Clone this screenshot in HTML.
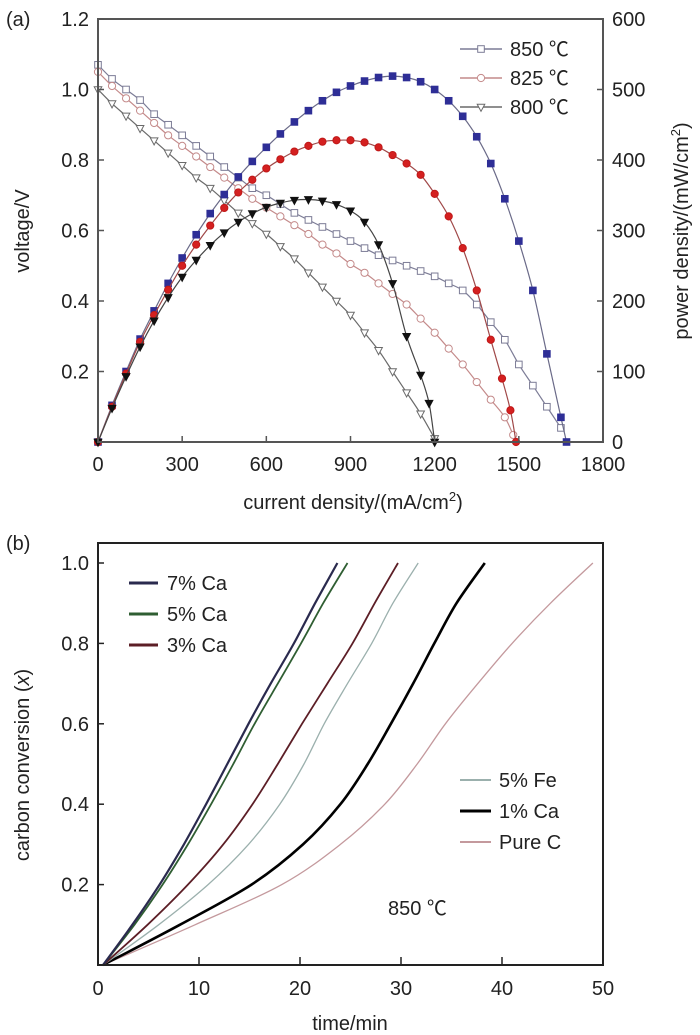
<!DOCTYPE html>
<html><head><meta charset="utf-8"><style>
html,body{margin:0;padding:0;background:#fff;}
svg{display:block;font-family:"Liberation Sans","Noto Sans CJK SC",sans-serif;}
</style></head><body>
<svg id="fig" width="700" height="1035" viewBox="0 0 700 1035"></svg>
<script>
// ---- Panel (a) data ----
const iv850 = [0,50,100,150,200,250,300,350,400,450,500,550,600,650,700,750,800,850,900,950,1000,1050,1100,1150,1200,1250,1300,1350,1400,1450,1500,1550,1600,1650];
const v850 = [1.07,1.03,1.0,0.97,0.93,0.90,0.87,0.84,0.81,0.78,0.75,0.72,0.70,0.675,0.65,0.63,0.61,0.59,0.57,0.55,0.53,0.515,0.50,0.485,0.47,0.45,0.43,0.39,0.34,0.29,0.22,0.16,0.10,0.04];
const iv825 = [0,50,100,150,200,250,300,350,400,450,500,550,600,650,700,750,800,850,900,950,1000,1050,1100,1150,1200,1250,1300,1350,1400,1450,1480];
const v825 = [1.05,1.01,0.975,0.94,0.905,0.87,0.84,0.81,0.78,0.75,0.72,0.69,0.665,0.64,0.615,0.59,0.56,0.535,0.505,0.48,0.45,0.42,0.39,0.35,0.31,0.265,0.22,0.17,0.12,0.07,0.02];
const iv800 = [0,50,100,150,200,250,300,350,400,450,500,550,600,650,700,750,800,850,900,950,1000,1050,1100,1150,1200];
const v800 = [1.0,0.96,0.925,0.89,0.855,0.82,0.785,0.75,0.72,0.685,0.65,0.62,0.59,0.555,0.52,0.48,0.44,0.40,0.36,0.31,0.26,0.20,0.14,0.08,0.01];
const ip850 = [0,50,100,150,200,250,300,350,400,450,500,550,600,650,700,750,800,850,900,950,1000,1050,1100,1150,1200,1250,1300,1350,1400,1450,1500,1550,1600,1650,1670];
const p850 = [0,52,100,146,186,225,261,294,324,351,376,398,418,437,454,470,484,496,505,512,517,519,517,511,500,484,462,433,395,345,285,215,125,35,0];
const ip825 = [0,50,100,150,200,250,300,350,400,450,500,550,600,650,700,750,800,850,900,950,1000,1050,1100,1150,1200,1250,1300,1350,1400,1440,1470,1490];
const p825 = [0,50,97,142,180,216,250,280,307,332,354,372,388,401,412,420,426,428,428,425,418,407,395,379,352,320,275,215,145,90,45,0];
const ip800 = [0,50,100,150,200,250,300,350,400,450,500,550,600,650,700,750,800,850,900,950,1000,1050,1100,1150,1180,1200];
const p800 = [0,48,93,135,172,205,234,258,279,297,312,324,333,339,343,344,342,337,328,312,280,225,150,95,55,0];
const xTicksA = [0,300,600,900,1200,1500,1800];
const yTicksA = [0.2,0.4,0.6,0.8,1.0,1.2];
const yTicksA2 = [0,100,200,300,400,500,600];
// ---- Panel (b) data ----
const convLevels = [0,0.1,0.2,0.3,0.4,0.5,0.6,0.7,0.8,0.9,1.0];
const t7Ca = [0.5,3.4,6.1,8.5,10.7,12.8,14.9,17.1,19.4,21.5,23.7];
const t5Ca = [0.5,3.6,6.4,8.9,11.2,13.4,15.5,17.8,20.1,22.3,24.7];
const t3Ca = [0.5,4.9,8.9,12.4,15.3,17.8,20.2,22.7,25.2,27.4,29.7];
const t5Fe = [0.5,6.0,10.9,14.9,18.0,20.4,22.4,24.7,27.1,29.2,31.7];
const t1Ca = [0.5,8.1,15.2,20.3,24.0,26.7,29.0,31.2,33.3,35.5,38.3];
const tPure = [0.5,9.6,18.2,24.0,28.4,31.6,34.4,37.6,41.0,44.8,49.0];
const xTicksB = [0,10,20,30,40,50];
const yTicksB = [0.2,0.4,0.6,0.8,1.0];

const NS="http://www.w3.org/2000/svg";
const svg=document.getElementById('fig');
function mk(tag,attrs,parent){const e=document.createElementNS(NS,tag);for(const k in attrs)e.setAttribute(k,attrs[k]);(parent||svg).appendChild(e);return e;}
function txt(s,x,y,attrs,parent){const e=mk('text',Object.assign({x:x,y:y,'font-size':20,fill:'#222'},attrs),parent);e.textContent=s;return e;}

const AL=98,AR=603,AT=19,AB=442;
const xA=v=>AL+(v/1800)*(AR-AL);
const yA=v=>AB-(v/1.2)*(AB-AT);
const yA2=v=>AB-(v/600)*(AB-AT);
const BT=543,BB=965;
const yB0=965,yB1=563;
const xB=v=>AL+(v/50)*(AR-AL);
const yB=v=>yB0-v*(yB0-yB1);

function smoothPath(pts){
  let d='M'+pts[0][0].toFixed(1)+','+pts[0][1].toFixed(1);
  for(let i=0;i<pts.length-1;i++){
    const p0=pts[Math.max(0,i-1)],p1=pts[i],p2=pts[i+1],p3=pts[Math.min(pts.length-1,i+2)];
    const c1=[p1[0]+(p2[0]-p0[0])/6,p1[1]+(p2[1]-p0[1])/6];
    const c2=[p2[0]-(p3[0]-p1[0])/6,p2[1]-(p3[1]-p1[1])/6];
    d+=' C'+c1[0].toFixed(1)+','+c1[1].toFixed(1)+' '+c2[0].toFixed(1)+','+c2[1].toFixed(1)+' '+p2[0].toFixed(1)+','+p2[1].toFixed(1);
  }
  return d;
}
function marker(type,x,y,fill,stroke,g,r){
  r=r||3.3;let e;
  if(type==='sq'){e=mk('rect',{x:x-r,y:y-r,width:2*r,height:2*r,fill:fill,stroke:stroke,'stroke-width':1},g);}
  else if(type==='ci'){e=mk('circle',{cx:x,cy:y,r:r+0.3,fill:fill,stroke:stroke,'stroke-width':1},g);}
  else {e=mk('path',{d:`M${x-r-0.5},${y-r+0.5} L${x+r+0.5},${y-r+0.5} L${x},${y+r+1} Z`,fill:fill,stroke:stroke,'stroke-width':1},g);}
  return e;
}

// ---------- Panel (a) ----------
const ga=mk('g',{});


txt('(a)',6,26,{'font-size':20},ga);
function drawSeriesA(I,V,yfn,type,fill,stroke,lineColor,name){
  const g=mk('g',{},ga);
  
  
  const pts=I.map((c,i)=>[xA(c),yfn(V[i])]);
  mk('path',{d:smoothPath(pts),fill:'none',stroke:lineColor,'stroke-width':1.2},g);
  pts.forEach(p=>marker(type,p[0],p[1],fill,stroke,g));
}
drawSeriesA(iv850,v850,yA,'sq','#fff','#7c7c96','#7c7c96','voltage-850');
drawSeriesA(iv825,v825,yA,'ci','#fff','#c48a8a','#c48a8a','voltage-825');
drawSeriesA(iv800,v800,yA,'tri','#fff','#6a6a6a','#6a6a6a','voltage-800');
drawSeriesA(ip850,p850,yA2,'sq','#2e2e96','#2e2e96','#6a6a88','power-850');
drawSeriesA(ip825,p825,yA2,'ci','#d42020','#c01818','#a04848','power-825');
drawSeriesA(ip800,p800,yA2,'tri','#111','#111','#444','power-800');
mk('rect',{x:AL,y:AT,width:AR-AL,height:AB-AT,fill:'none',stroke:'#555','stroke-width':2},ga);
xTicksA.forEach(v=>{const x=xA(v);mk('line',{x1:x,y1:AB,x2:x,y2:AB-6,stroke:'#555','stroke-width':1.5},ga);const t=txt(String(v),x,471,{'text-anchor':'middle'},ga);});
yTicksA.forEach(v=>{const y=yA(v);mk('line',{x1:AL,y1:y,x2:AL+6,y2:y,stroke:'#555','stroke-width':1.5},ga);const t=txt(v.toFixed(1),89,y+7,{'text-anchor':'end'},ga);});
yTicksA2.forEach(v=>{const y=yA2(v);mk('line',{x1:AR,y1:y,x2:AR-6,y2:y,stroke:'#555','stroke-width':1.5},ga);const t=txt(String(v),612,y+7,{'text-anchor':'start'},ga);});
const xt=mk('text',{x:353,y:509,'text-anchor':'middle','font-size':20,fill:'#222'},ga);
xt.innerHTML='current density/(mA/cm<tspan font-size="13" dy="-8">2</tspan><tspan dy="8">)</tspan>';


const yl=txt('voltage/V',0,0,{transform:'translate(29,231) rotate(-90)','text-anchor':'middle'},ga);

const yr=mk('text',{transform:'translate(688,231) rotate(-90)','text-anchor':'middle','font-size':20,fill:'#222'},ga);
yr.innerHTML='power density/(mW/cm<tspan font-size="13" dy="-8">2</tspan><tspan dy="8">)</tspan>';

const legA=[['850 ℃','sq','#7c7c96'],['825 ℃','ci','#c48a8a'],['800 ℃','tri','#6a6a6a']];
legA.forEach((l,i)=>{const y=49+i*29;const g=mk('g',{},ga);
  mk('line',{x1:460,y1:y,x2:502,y2:y,stroke:l[2],'stroke-width':1.5},g);marker(l[1],481,y,'#fff',l[2],g);txt(l[0],510,y+7,{},g);});

// ---------- Panel (b) ----------
const gb=mk('g',{});


txt('(b)',6,550,{'font-size':20},gb);
const seriesB=[[tPure,'#c4999d',1.3,'curve-pure-c'],[t1Ca,'#000',2.6,'curve-1ca'],[t5Fe,'#9bb0ad',1.3,'curve-5fe'],[t3Ca,'#5c1e26',1.8,'curve-3ca'],[t5Ca,'#2f5e32',1.8,'curve-5ca'],[t7Ca,'#2a2a4e',2.2,'curve-7ca']];
seriesB.forEach(s=>{const pts=s[0].map((t,i)=>[xB(t),yB(convLevels[i])]);const p=mk('path',{d:smoothPath(pts),fill:'none',stroke:s[1],'stroke-width':s[2]},gb);});
mk('rect',{x:AL,y:BT,width:AR-AL,height:BB-BT,fill:'none',stroke:'#222','stroke-width':2},gb);
xTicksB.forEach(v=>{const x=xB(v);mk('line',{x1:x,y1:BB,x2:x,y2:BB-8,stroke:'#222','stroke-width':1.5},gb);const t=txt(String(v),x,995,{'text-anchor':'middle'},gb);});
yTicksB.forEach(v=>{const y=yB(v);mk('line',{x1:AL,y1:y,x2:AL+6,y2:y,stroke:'#222','stroke-width':1.5},gb);const t=txt(v.toFixed(1),89,y+7,{'text-anchor':'end'},gb);});
txt('time/min',350,1030,{'text-anchor':'middle'},gb);
const yb=mk('text',{transform:'translate(29,765) rotate(-90)','text-anchor':'middle','font-size':20,fill:'#222'},gb);
yb.innerHTML='carbon conversion (<tspan font-style="italic">x</tspan>)';

txt('850 ℃',388,915,{},gb);
const legB1=[['7% Ca','#2a2a4e',3],['5% Ca','#2f5e32',3],['3% Ca','#5c1e26',3]];
legB1.forEach((l,i)=>{const y=583+i*31;const g=mk('g',{},gb);
  mk('line',{x1:129,y1:y,x2:158,y2:y,stroke:l[1],'stroke-width':l[2]},g);txt(l[0],167,y+7,{},g);});
const legB2=[['5% Fe','#9bb0ad',2],['1% Ca','#000',3],['Pure C','#c4999d',2]];
legB2.forEach((l,i)=>{const y=780+i*31;const g=mk('g',{},gb);
  mk('line',{x1:460,y1:y,x2:491,y2:y,stroke:l[1],'stroke-width':l[2]},g);txt(l[0],499,y+7,{},g);});
</script>
</body></html>
